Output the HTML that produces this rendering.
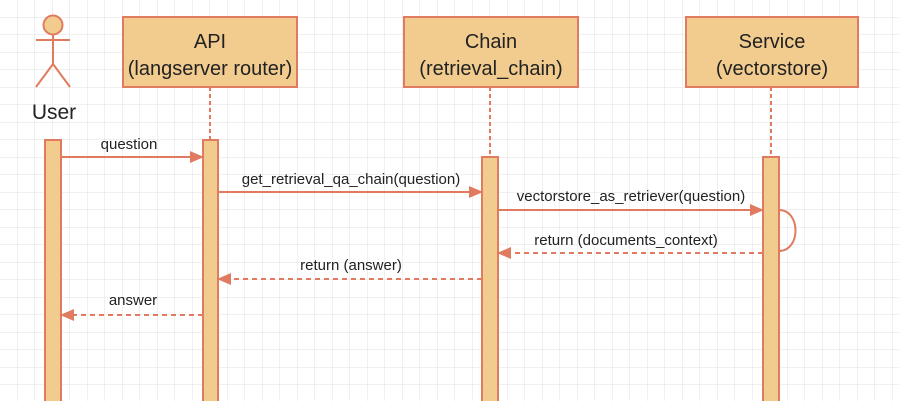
<!DOCTYPE html>
<html><head><style>
body{margin:0;background:#fff}
svg{display:block}
text{font-family:"Liberation Sans",sans-serif;fill:#222}
</style></head><body>
<svg width="899" height="401" viewBox="0 0 899 401" xmlns="http://www.w3.org/2000/svg">
<defs>
<pattern id="g" width="17.5" height="17.5" patternUnits="userSpaceOnUse" x="0" y="0">
<path d="M17.5 0V17.5M0 17.5H17.5" stroke="#e2e2e2" stroke-width="1" fill="none"/>
</pattern>
<marker id="a" markerWidth="14" markerHeight="12" refX="13" refY="6" orient="auto" markerUnits="userSpaceOnUse">
<path d="M0 0L14 6L0 12Z" fill="#e07b5f"/></marker>
</defs>
<rect width="899" height="401" fill="url(#g)"/>
<g stroke="#e07b5f" stroke-width="2" fill="none">
<circle cx="53" cy="25" r="9.5" fill="#f2cc8f"/>
<path d="M53 34.5V64M36 40H70M53 64L36 87M53 64L70 87"/>
<path d="M210 87V140M490 87V157M771 87V157" stroke-dasharray="4 3"/>
</g>
<g fill="#f2cc8f" stroke="#e07b5f" stroke-width="2">
<rect x="123" y="17" width="174" height="70"/>
<rect x="404" y="17" width="174" height="70"/>
<rect x="686" y="17" width="172" height="70"/>
<rect x="45" y="140" width="16" height="270"/>
<rect x="203" y="140" width="15" height="270"/>
<rect x="482" y="157" width="16" height="260"/>
<rect x="763" y="157" width="16" height="260"/>
</g>
<g font-size="20" text-anchor="middle" fill="#333">
<text x="210" y="48">API</text><text x="210" y="75">(langserver router)</text>
<text x="491" y="48">Chain</text><text x="491" y="75">(retrieval_chain)</text>
<text x="772" y="48">Service</text><text x="772" y="75">(vectorstore)</text>
<text x="54" y="119" font-size="21">User</text>
</g>
<g stroke="#e07b5f" stroke-width="2" fill="none">
<path d="M61 157H203" marker-end="url(#a)"/>
<path d="M218 192H482" marker-end="url(#a)"/>
<path d="M498 210H763" marker-end="url(#a)"/>
<path d="M779 210C801 210 801 251 779 251"/>
<path d="M763 253H498" stroke-dasharray="5 4" marker-end="url(#a)"/>
<path d="M482 279H218" stroke-dasharray="5 4" marker-end="url(#a)"/>
<path d="M203 315H61" stroke-dasharray="5 4" marker-end="url(#a)"/>
</g>
<g font-size="15" text-anchor="middle">
<text x="129" y="149">question</text>
<text x="351" y="184">get_retrieval_qa_chain(question)</text>
<text x="631" y="201">vectorstore_as_retriever(question)</text>
<text x="626" y="245">return (documents_context)</text>
<text x="351" y="270">return (answer)</text>
<text x="133" y="305">answer</text>
</g>
</svg>
</body></html>
